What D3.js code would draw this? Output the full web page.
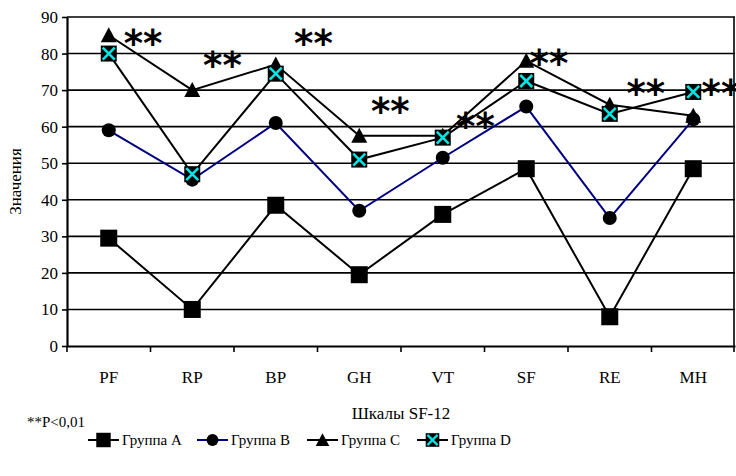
<!DOCTYPE html>
<html>
<head>
<meta charset="utf-8">
<script src="https://cdn.jsdelivr.net/npm/d3@7"></script>
<style>
  body { margin: 0; background: #fff; }
</style>
</head>
<body>
<script>
// SF-12 scale scores by group
const categories = ["PF", "RP", "BP", "GH", "VT", "SF", "RE", "MH"];
const groupA = [29.5, 10, 38.5, 19.5, 36, 48.5, 8, 48.5];
const groupB = [59, 45.5, 61, 37, 51.5, 65.5, 35, 62];
const groupC = [85, 70, 77, 57.5, 57.5, 78, 66, 63];
const groupD = [80, 47, 74.5, 51, 57, 72.5, 63.5, 69.5];
const yTicks = [0, 10, 20, 30, 40, 50, 60, 70, 80, 90];

// "**" marks: category, shift along band (fraction), level in value units
const starCats = ["PF", "RP", "BP", "GH", "VT", "SF", "RE", "MH"];
const starShift = [0.18, 0.13, 0.22, 0.14, 0.16, 0.04, 0.2, 0.1];
const starLevel = [84.8, 78.8, 84.8, 66.3, 62, 79.3, 71.2, 71.2];

const serif = "'Liberation Serif', 'DejaVu Serif', serif";
const width = 736, height = 476;
const margin = { top: 17, right: 1, bottom: 130, left: 67 };

const series = [
  { name: "Группа А", values: groupA, color: "#000", marker: "square" },
  { name: "Группа В", values: groupB, color: "#000080", marker: "circle" },
  { name: "Группа С", values: groupC, color: "#000", marker: "triangle" },
  { name: "Группа D", values: groupD, color: "#000", marker: "xsquare" }
];

const x = d3.scaleBand()
  .domain(categories)
  .range([margin.left, width - margin.right]);

const y = d3.scaleLinear()
  .domain([0, 90])
  .range([height - margin.bottom, margin.top]);

const svg = d3.create("svg")
  .attr("width", width)
  .attr("height", height);

// gridlines
svg.append("g")
  .selectAll("line")
  .data(yTicks.slice(1))
  .join("line")
  .attr("x1", margin.left)
  .attr("x2", width - margin.right)
  .attr("y1", d => y(d))
  .attr("y2", d => y(d))
  .attr("stroke", "#000")
  .attr("stroke-width", 1.6);

// right border
svg.append("line")
  .attr("x1", width - margin.right - 1).attr("x2", width - margin.right - 1)
  .attr("y1", y(90)).attr("y2", y(0))
  .attr("stroke", "#000").attr("stroke-width", 1.6);

// y axis
const gy = svg.append("g")
  .attr("transform", `translate(${margin.left},0)`)
  .call(d3.axisLeft(y).tickValues(yTicks).tickSize(5).tickSizeOuter(0).tickPadding(4));
gy.select(".domain").attr("stroke-width", 2.2);
gy.selectAll(".tick line").attr("stroke-width", 1.6);
gy.selectAll(".tick text")
  .style("font-family", serif)
  .style("font-size", "17px")
  .attr("fill", "#000");

// x axis
const gx = svg.append("g")
  .attr("transform", `translate(0,${y(0)})`)
  .call(d3.axisBottom(x).tickSize(0).tickPadding(25));
gx.select(".domain").attr("stroke-width", 2.2);
gx.selectAll(".tick text")
  .style("font-family", serif)
  .style("font-size", "17px")
  .attr("fill", "#000");
// tick marks between categories
svg.append("g")
  .selectAll("line")
  .data(categories.concat(["_end"]))
  .join("line")
  .attr("x1", (d, i) => i < categories.length ? x(d) : x.range()[1] - 1)
  .attr("x2", (d, i) => i < categories.length ? x(d) : x.range()[1] - 1)
  .attr("y1", y(0))
  .attr("y2", y(0) + 6)
  .attr("stroke", "#000")
  .attr("stroke-width", 1.6);

const cx = c => x(c) + x.bandwidth() / 2;

function drawMarker(g, type) {
  if (type === "square") {
    g.append("rect").attr("x", -8.5).attr("y", -8.5).attr("width", 17).attr("height", 17).attr("fill", "#000");
  } else if (type === "circle") {
    g.append("circle").attr("r", 7).attr("fill", "#000");
  } else if (type === "triangle") {
    g.append("path").attr("d", "M0,-8L8,7L-8,7Z").attr("fill", "#000");
  } else {
    g.append("rect").attr("x", -8).attr("y", -8).attr("width", 16).attr("height", 16).attr("fill", "#000");
    g.append("path").attr("d", "M-6,-6L6,6M6,-6L-6,6").attr("stroke", "#00e5e5").attr("stroke-width", 2.6);
  }
}

const line = d3.line()
  .x((d, i) => cx(categories[i]))
  .y(d => y(d));

series.forEach(s => {
  svg.append("path")
    .attr("d", line(s.values))
    .attr("fill", "none")
    .attr("stroke", s.color)
    .attr("stroke-width", 2);
  svg.append("g")
    .selectAll("g")
    .data(s.values)
    .join("g")
    .attr("transform", (d, i) => `translate(${cx(categories[i])},${y(d)})`)
    .each(function () { drawMarker(d3.select(this), s.marker); });
});

// significance marks
svg.append("g")
  .selectAll("text")
  .data(starCats)
  .join("text")
  .attr("x", (d, i) => cx(d) + starShift[i] * x.bandwidth())
  .attr("y", (d, i) => y(starLevel[i]) + 20)
  .style("font-family", "'DejaVu Sans', sans-serif")
  .style("font-weight", "bold")
  .style("font-size", "37px")
  .attr("fill", "#000")
  .text("**");

// axis titles
svg.append("text")
  .attr("transform", `translate(21,${(y(0) + y(90)) / 2}) rotate(-90)`)
  .attr("text-anchor", "middle")
  .style("font-family", serif)
  .style("font-size", "17px")
  .text("Значения");

svg.append("text")
  .attr("x", (x.range()[0] + x.range()[1]) / 2)
  .attr("y", 419)
  .attr("text-anchor", "middle")
  .style("font-family", serif)
  .style("font-size", "17px")
  .text("Шкалы SF-12");

svg.append("text")
  .attr("x", 27)
  .attr("y", 427)
  .style("font-family", serif)
  .style("font-size", "15px")
  .text("**P<0,01");

// legend
const legendX = [88, 197, 307, 417];
const legend = svg.append("g")
  .selectAll("g")
  .data(series)
  .join("g")
  .attr("transform", (d, i) => `translate(${legendX[i]},440)`);
legend.append("line")
  .attr("x1", 0).attr("x2", 31)
  .attr("stroke", d => d.color)
  .attr("stroke-width", 2);
legend.each(function (d) {
  const m = d3.select(this).append("g").attr("transform", "translate(15.5,0) scale(0.85)");
  drawMarker(m, d.marker);
});
legend.append("text")
  .attr("x", 34)
  .attr("y", 5)
  .style("font-family", serif)
  .style("font-size", "15px")
  .text(d => d.name);

document.body.appendChild(svg.node());
</script>
</body>
</html>
